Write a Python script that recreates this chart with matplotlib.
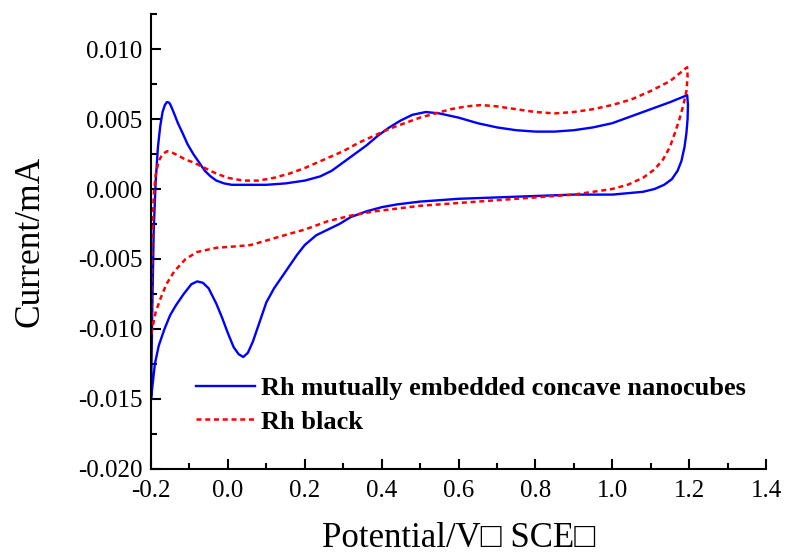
import matplotlib
matplotlib.use("Agg")
import matplotlib.pyplot as plt
from matplotlib.ticker import MultipleLocator, FormatStrFormatter

# Blue: Rh mutually embedded concave nanocubes (closed CV loop)
blue_x = [-0.200, -0.197, -0.193, -0.188, -0.182, -0.176, -0.170, -0.164, -0.159, -0.155,
          -0.151, -0.146, -0.140, -0.130, -0.118, -0.105, -0.090, -0.075, -0.060, -0.045,
          -0.030, -0.010, 0.010, 0.050, 0.100, 0.150, 0.200, 0.240, 0.270, 0.300,
          0.330, 0.360, 0.390, 0.420, 0.450, 0.480, 0.515, 0.550, 0.600, 0.650,
          0.700, 0.750, 0.800, 0.850, 0.900, 0.950, 1.000, 1.050, 1.100, 1.150, 1.195,
          1.197, 1.196, 1.193, 1.188, 1.180, 1.170, 1.155, 1.135, 1.110, 1.080,
          1.040, 1.000, 0.900, 0.800, 0.700, 0.600, 0.500, 0.440, 0.400, 0.360,
          0.320, 0.290, 0.260, 0.230, 0.200, 0.180, 0.160, 0.140, 0.120, 0.100,
          0.080, 0.065, 0.052, 0.040, 0.028, 0.015, 0.000, -0.015, -0.030, -0.050,
          -0.065, -0.080, -0.095, -0.115, -0.135, -0.150, -0.165, -0.180, -0.190, -0.200]
blue_y = [-0.0150, -0.0090, -0.0030, 0.0005, 0.0030, 0.0045, 0.0055, 0.0060, 0.0062, 0.0062,
          0.0061, 0.0058, 0.0054, 0.0047, 0.0040, 0.0032, 0.0025, 0.0019, 0.0013, 0.0009,
          0.0006, 0.0004, 0.0003, 0.0003, 0.0003, 0.0004, 0.0006, 0.0009, 0.0013, 0.0019,
          0.0025, 0.0031, 0.0038, 0.0044, 0.0049, 0.0053, 0.0055, 0.0054, 0.0051, 0.0047,
          0.0044, 0.0042, 0.0041, 0.0041, 0.0042, 0.0044, 0.0047, 0.0052, 0.0057, 0.0062, 0.0067,
          0.0060, 0.0050, 0.0040, 0.0030, 0.0020, 0.0013, 0.0007, 0.0003, 0.0000, -0.0002,
          -0.0003, -0.0004, -0.0004, -0.0005, -0.0006, -0.0007, -0.0009, -0.0011, -0.0013, -0.0016,
          -0.0020, -0.0025, -0.0029, -0.0033, -0.0040, -0.0047, -0.0055, -0.0063, -0.0071, -0.0081,
          -0.0097, -0.0109, -0.0117, -0.0120, -0.0118, -0.0113, -0.0103, -0.0092, -0.0082, -0.0071,
          -0.0067, -0.0066, -0.0068, -0.0075, -0.0083, -0.0090, -0.0100, -0.0112, -0.0125, -0.0150]

# Red: Rh black (closed CV loop)
red_x = [-0.200, -0.199, -0.197, -0.193, -0.188, -0.180, -0.170, -0.158, -0.145, -0.130,
         -0.110, -0.090, -0.060, -0.030, 0.000, 0.040, 0.080, 0.120, 0.160, 0.200,
         0.250, 0.300, 0.340, 0.380, 0.420, 0.460, 0.500, 0.540, 0.580, 0.620,
         0.660, 0.700, 0.750, 0.800, 0.850, 0.900, 0.950, 1.000, 1.050, 1.100,
         1.150, 1.195,
         1.196, 1.193, 1.185, 1.175, 1.163, 1.150, 1.132, 1.110, 1.080, 1.040,
         1.000, 0.950, 0.900, 0.800, 0.700, 0.600, 0.500, 0.440, 0.380, 0.320,
         0.260, 0.200, 0.160, 0.110, 0.060, 0.020, -0.030, -0.080, -0.110, -0.140,
         -0.160, -0.175, -0.188, -0.200]
red_y = [-0.0104, -0.0070, -0.0035, -0.0005, 0.0010, 0.0020, 0.0025, 0.0027, 0.0026, 0.0024,
         0.0021, 0.0019, 0.0015, 0.0011, 0.0008, 0.0006, 0.0006, 0.0008, 0.0011, 0.0015,
         0.0021, 0.0027, 0.0033, 0.0038, 0.0043, 0.0047, 0.0051, 0.0054, 0.0057, 0.0059,
         0.0060, 0.0059, 0.0057, 0.0055, 0.0054, 0.0055, 0.0057, 0.0060, 0.0064, 0.0070,
         0.0077, 0.0087,
         0.0080, 0.0070, 0.0060, 0.0050, 0.0040, 0.0030, 0.0021, 0.0014, 0.0008, 0.0003,
         0.0000, -0.0002, -0.0004, -0.0006, -0.0008, -0.0010, -0.0012, -0.0014, -0.0016, -0.0019,
         -0.0023, -0.0029, -0.0032, -0.0036, -0.0040, -0.0041, -0.0042, -0.0045, -0.0050, -0.0059,
         -0.0068, -0.0078, -0.0088, -0.0104]

labels = ["Rh mutually embedded concave nanocubes", "Rh black"]
xlabel = "Potential/V\u25a1 SCE\u25a1"
ylabel = "Current/mA"

plt.rcParams['font.family'] = ['Liberation Serif', 'DejaVu Serif']

fig = plt.figure(figsize=(7.87, 5.56), dpi=100)
ax = fig.add_axes([0.1919, 0.1565, 0.7814, 0.8183])

ax.plot(blue_x, blue_y, color='#0000ff', lw=1.7, label=labels[0])
ax.plot(red_x, red_y, color='#ff0000', lw=1.8, ls=(0, (2.0, 1.5)), label=labels[1])

ax.set_xlim(-0.2, 1.4)
ax.set_ylim(-0.020, 0.0125)
ax.xaxis.set_major_locator(MultipleLocator(0.2))
ax.xaxis.set_minor_locator(MultipleLocator(0.1))
ax.yaxis.set_major_locator(MultipleLocator(0.005))
ax.yaxis.set_minor_locator(MultipleLocator(0.0025))
ax.xaxis.set_major_formatter(FormatStrFormatter('%.1f'))
ax.yaxis.set_major_formatter(FormatStrFormatter('%.3f'))

for s in ['top', 'right']:
    ax.spines[s].set_visible(False)
for s in ['left', 'bottom']:
    ax.spines[s].set_linewidth(1.5)

ax.tick_params(which='major', direction='in', length=7, width=1.5, labelsize=18)
ax.tick_params(which='minor', direction='in', length=4, width=1.5)
ax.tick_params(axis='y', which='major', pad=6)
ax.tick_params(axis='x', which='major', pad=8)

ax.set_xlabel(xlabel, fontsize=25, labelpad=14)
ax.set_ylabel(ylabel, fontsize=25.5, labelpad=23)

leg = ax.legend(loc='upper left', bbox_to_anchor=(0.073, 0.203), frameon=False,
                borderaxespad=0, borderpad=0,
                prop={'weight': 'bold', 'size': 19}, handlelength=2.25,
                handletextpad=0.2, labelspacing=0.38)

fig.savefig('out.png', dpi=100)
